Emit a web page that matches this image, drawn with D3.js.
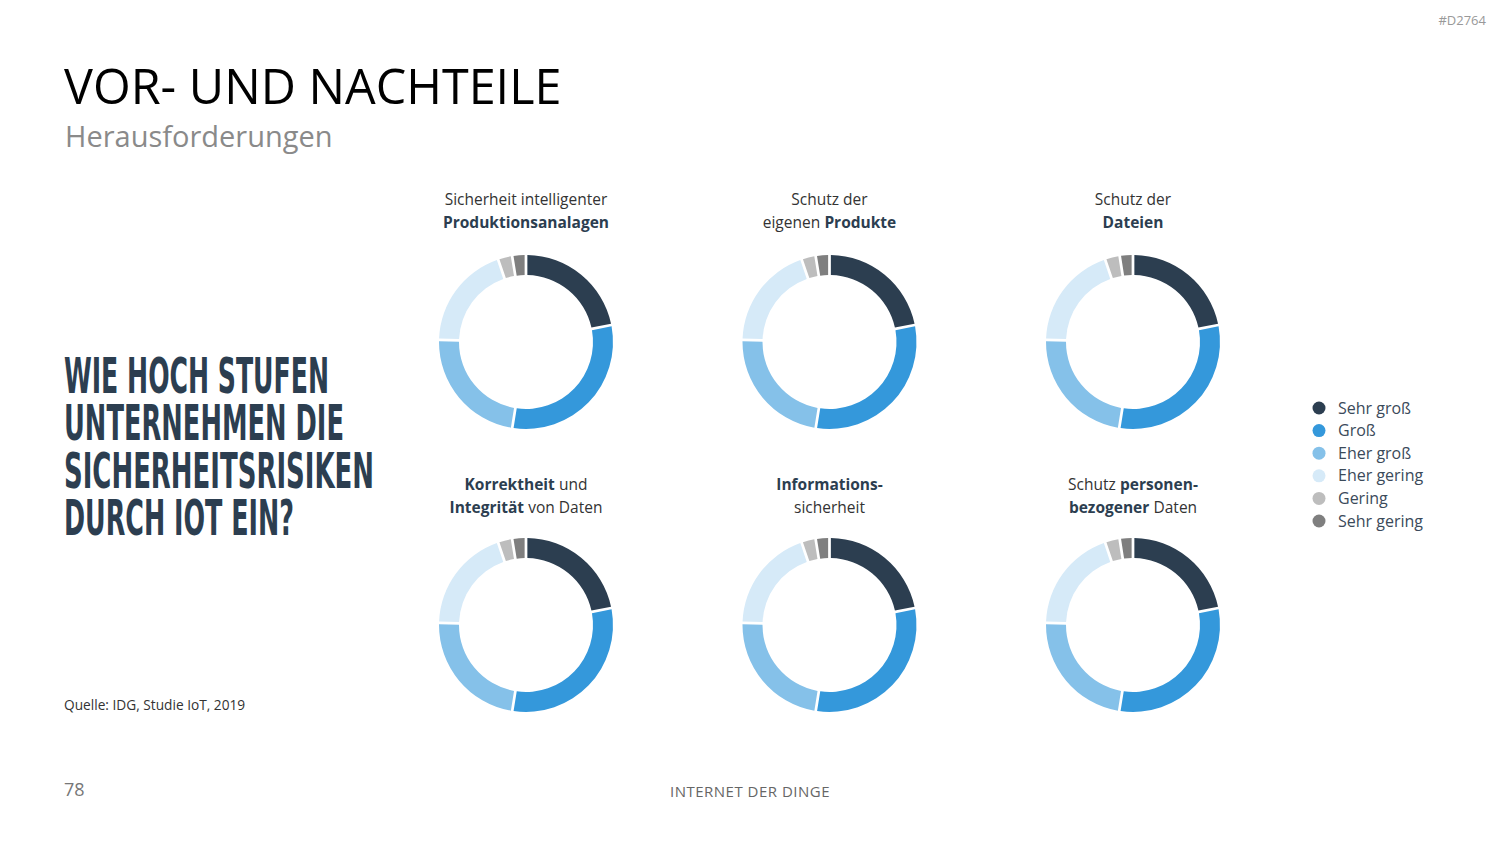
<!DOCTYPE html>
<html>
<head>
<meta charset="utf-8">
<script src="https://cdn.jsdelivr.net/npm/d3@7"></script>
<style>
  body { margin: 0; background: #fff; }
  text { font-family: 'Open Sans', 'Noto Sans', sans-serif; }
</style>
</head>
<body>
<div id="chart"></div>
<script>
// Categories and colours of the answer scale
const categories = ['Sehr groß', 'Groß', 'Eher groß', 'Eher gering', 'Gering', 'Sehr gering'];
const categoryColors = ['#2c3e50', '#3498db', '#85c1e9', '#d6eaf8', '#bdbdbd', '#7f7f7f'];

// Titles of each donut: array of lines, each line array of [text, bold]
const panelTitles = [
    [[['Sicherheit intelligenter', false]], [['Produktionsanalagen', true]]],
    [[['Schutz der', false]], [['eigenen', false], ['Produkte', true]]],
    [[['Schutz der', false]], [['Dateien', true]]],
    [[['Korrektheit', true], ['und', false]], [['Integrität', true], ['von Daten', false]]],
    [[['Informations-', true]], [['sicherheit', false]]],
    [[['Schutz', false], ['personen-', true]], [['bezogener', true], ['Daten', false]]]
];

// Shares (%) per donut, in category order
const panelValues = [
    [22, 31, 23, 19.5, 2.3, 2.2],
    [22, 31, 23, 19.5, 2.3, 2.2],
    [22, 31, 23, 19.5, 2.4, 2.1],
    [22, 31, 23, 19.5, 2.3, 2.2],
    [22, 31, 23, 19.5, 2.3, 2.2],
    [22, 31, 23, 19.5, 2.4, 2.1]
];

const questionLines = ['WIE HOCH STUFEN', 'UNTERNEHMEN DIE', 'SICHERHEITSRISIKEN', 'DURCH IOT EIN?'];
const questionWidths = [265, 280, 310, 230];

const width = 1500, height = 844;
const svg = d3.select('#chart').append('svg')
    .attr('width', width)
    .attr('height', height);

// Header
svg.append('text')
    .attr('x', 1486).attr('y', 25)
    .attr('text-anchor', 'end')
    .style('font-size', '13px')
    .attr('fill', '#999')
    .text('#D2764');

svg.append('text')
    .attr('x', 64).attr('y', 104)
    .style('font-size', '48.5px')
    .attr('fill', '#000')
    .text('VOR- UND NACHTEILE');

svg.append('text')
    .attr('x', 65).attr('y', 147)
    .style('font-size', '29px')
    .attr('fill', '#8a8a8a')
    .text('Herausforderungen');

// Question block
svg.selectAll('.question')
    .data(questionLines)
    .enter()
    .append('text')
    .attr('class', 'question')
    .attr('x', 64)
    .attr('y', (d, i) => 393 + i * 47.3)
    .attr('textLength', (d, i) => questionWidths[i])
    .attr('lengthAdjust', 'spacingAndGlyphs')
    .style('font-family', "'Liberation Sans Narrow', 'DejaVu Sans Condensed', sans-serif")
    .style('font-size', '50px')
    .style('font-weight', 'bold')
    .attr('fill', '#2c3e50')
    .text(d => d);

svg.append('text')
    .attr('x', 64).attr('y', 710)
    .style('font-size', '13.7px')
    .attr('fill', '#333')
    .text('Quelle: IDG, Studie IoT, 2019');

// Footer
svg.append('text')
    .attr('x', 64).attr('y', 796)
    .style('font-size', '18px')
    .attr('fill', '#777')
    .text('78');

svg.append('text')
    .attr('x', 750).attr('y', 797)
    .attr('text-anchor', 'middle')
    .style('font-size', '15px')
    .style('letter-spacing', '0.5px')
    .attr('fill', '#666')
    .text('INTERNET DER DINGE');

// Donuts
const colX = d3.scalePoint().domain([0, 1, 2]).range([526, 1133]);
const rowY = d3.scalePoint().domain([0, 1]).range([342, 625]);
const titleY = [205, 490];
const color = d3.scaleOrdinal().domain(categories).range(categoryColors);

const pie = d3.pie().sort(null).value(d => d.value).padAngle(0.025);
const arc = d3.arc().innerRadius(67).outerRadius(87);

panelValues.forEach((vals, i) => {
    const row = Math.floor(i / 3);
    const cx = colX(i % 3), cy = rowY(row);
    const g = svg.append('g').attr('transform', `translate(${cx},${cy})`);
    const data = vals.map((v, j) => ({ category: categories[j], value: v }));
    g.selectAll('path')
        .data(pie(data))
        .enter()
        .append('path')
        .attr('d', arc)
        .attr('fill', d => color(d.data.category));

    // Title above the donut: each word group is its own text, laid out in a row
    panelTitles[i].forEach((line, li) => {
        const gap = 4.2;
        const parts = line.map(part => svg.append('text')
            .attr('y', titleY[row] + li * 23)
            .style('font-size', '15.5px')
            .style('font-weight', part[1] ? 'bold' : 'normal')
            .attr('fill', part[1] ? '#2c3e50' : '#333')
            .text(part[0]));
        const widths = parts.map(p => p.node().getComputedTextLength());
        const total = d3.sum(widths) + gap * (parts.length - 1);
        let x = cx - total / 2;
        parts.forEach((p, k) => {
            p.attr('x', x);
            x += widths[k] + gap;
        });
    });
});

// Legend
const legend = svg.append('g').attr('transform', 'translate(1319,408)');
const legendItems = legend.selectAll('.legend-item')
    .data(categories)
    .enter()
    .append('g')
    .attr('class', 'legend-item')
    .attr('transform', (d, i) => `translate(0,${i * 22.6})`);

legendItems.append('circle')
    .attr('r', 6.5)
    .attr('fill', d => color(d));

legendItems.append('text')
    .attr('x', 19)
    .attr('dy', '0.35em')
    .style('font-size', '16px')
    .attr('fill', '#3b4a5a')
    .text(d => d);
</script>
</body>
</html>
